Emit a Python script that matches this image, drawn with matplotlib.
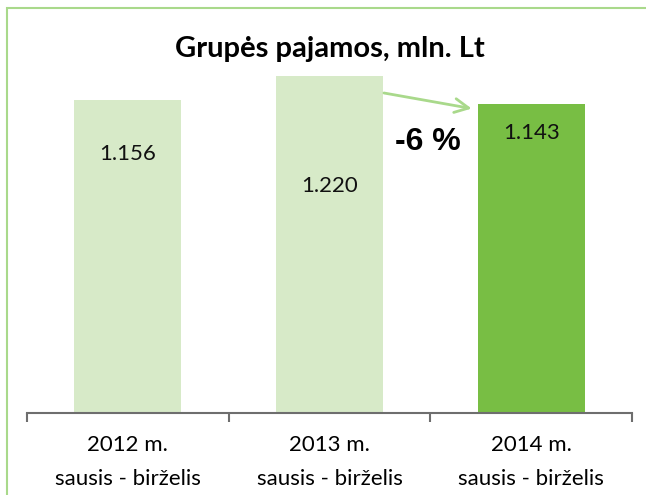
#!/usr/bin/env python3
import matplotlib
matplotlib.use("Agg")
import matplotlib.pyplot as plt
from matplotlib.patches import Rectangle

# ----- data -----
periods = ["2012 m.", "2013 m.", "2014 m."]
months = ["sausis - birželis", "sausis - birželis", "sausis - birželis"]
revenue = [1.156, 1.220, 1.143]          # mln. Lt
title = "Grupės pajamos, mln. Lt"

# ----- style knobs -----
LIGHT = "#d7eac8"
DARK = "#78be44"
LINE_GREEN = "#a9d98b"
AXIS_GRAY = "#6e6e6e"
BAR_W = 0.53
LABEL_DROP_PX = [54, 110, 29]   # how far each value label sits below its bar top

plt.rcParams["font.family"] = ["Lato", "DejaVu Sans"]

fig = plt.figure(figsize=(6.46, 4.95), dpi=100)
ax = fig.add_axes([27 / 646, 82 / 495, 605 / 646, 362 / 495])

x = list(range(len(revenue)))
colors = [LIGHT] * (len(revenue) - 1) + [DARK]
bars = ax.bar(x, revenue, width=BAR_W, color=colors, zorder=2)

ax.set_xlim(-0.5, len(revenue) - 0.5)
ax.set_ylim(0.29, 1.29)

# value labels inside bars
for xi, v, drop in zip(x, revenue, LABEL_DROP_PX):
    ax.annotate(f"{v:.3f}", xy=(xi, v), xytext=(0, -drop * 0.72),
                textcoords="offset points", ha="center", va="center",
                fontsize=16, color="#111111")

# arrow + change between last two periods
chg = (revenue[2] - revenue[1]) / revenue[1] * 100
ax.annotate("", xy=(2 - BAR_W / 2 - 0.03, revenue[2] - 0.012),
            xytext=(1 + BAR_W / 2 + 0.005, revenue[1] - 0.046),
            arrowprops=dict(arrowstyle="->,head_length=1.0,head_width=0.5",
                            color=LINE_GREEN, lw=2, shrinkA=0, shrinkB=0))
ax.text(1.488, 1.039, f"{chg:.0f} %", ha="center", va="center",
        fontsize=23, fontweight="bold", family=["Liberation Sans", "DejaVu Sans"])

# axes styling: only bottom axis with boundary ticks
for s in ["top", "right", "left"]:
    ax.spines[s].set_visible(False)
ax.spines["bottom"].set_color(AXIS_GRAY)
ax.spines["bottom"].set_linewidth(1.5)
ax.set_yticks([])
ax.set_xticks(x)
ax.set_xticklabels([f"{p}\n{m}" for p, m in zip(periods, months)],
                   fontsize=16, linespacing=1.85)
ax.tick_params(axis="x", which="major", length=0, pad=16)
ax.set_xticks([i - 0.5 for i in range(len(revenue) + 1)], minor=True)
ax.tick_params(axis="x", which="minor", length=6.5, width=1.5, color=AXIS_GRAY,
               direction="out")

fig.text(330 / 646, 1 - 49 / 495, title, ha="center", va="center",
         fontsize=21, fontweight="bold")

# chart frame (runs off the right and bottom edge like the source crop)
fig.patches.append(Rectangle((7 / 646, -0.05), 1.1, 1 - 8 / 495 + 0.05,
                             transform=fig.transFigure, fill=False,
                             edgecolor=LINE_GREEN, lw=1.5, clip_on=False))

fig.savefig("out.png", dpi=100)
